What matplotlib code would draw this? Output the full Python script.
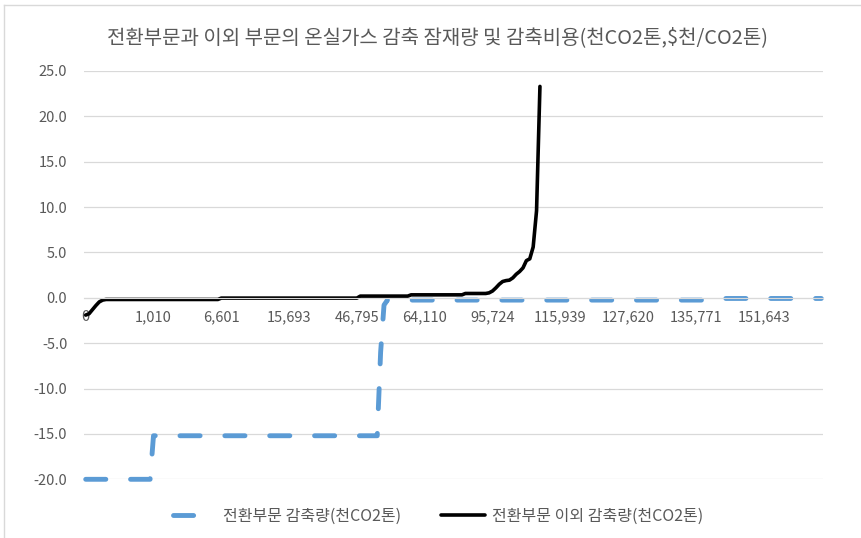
import numpy as np
import matplotlib.pyplot as plt
from matplotlib.ticker import FormatStrFormatter
from matplotlib.lines import Line2D

plt.rcParams['font.family'] = ['Noto Sans CJK KR', 'DejaVu Sans']
plt.rcParams['lines.scale_dashes'] = False

title = '전환부문과 이외 부문의 온실가스 감축 잠재량 및 감축비용(천CO2톤,\\$천/CO2톤)'
label_blue = '전환부문 감축량(천CO2톤)'
label_black = '전환부문 이외 감축량(천CO2톤)'

# category labels shown every 20th category
xlabels = ['0', '1,010', '6,601', '15,693', '46,795', '64,110',
           '95,724', '115,939', '127,620', '135,771', '151,643']

# values (runs of flat values written as repeats)
blue = ([-20.0] * 20 + [-15.2] * 67 + [-6.0, -0.8]
        + [-0.25] * 99 + [-0.07] * 30)
black = ([-1.9, -1.75, -1.3, -0.85, -0.45, -0.25]
         + [-0.18] * 34 + [-0.03] * 41 + [0.19] * 15 + [0.33] * 16 + [0.48] * 7
         + [0.55, 0.75, 1.1, 1.5, 1.8, 1.9, 1.95, 2.2, 2.6, 2.9, 3.3, 4.1, 4.3, 5.6, 9.6, 23.3]
         + [np.nan] * 83)

x = np.arange(len(blue))

fig = plt.figure(figsize=(8.61, 5.38), dpi=100)
ax = fig.add_axes([84/861, 1-479.3/538, (823-84)/861, (479.3-71)/538])

ax.plot(x, blue, color='#5B9BD5', lw=3.5, dashes=(14.5, 17.8),
        dash_capstyle='round', clip_on=False, label=label_blue)
ax.plot(x, black, color='black', lw=2.6, solid_capstyle='round',
        solid_joinstyle='round', clip_on=False, label=label_black)

ax.set_xlim(-0.5, len(x)-0.5)
ax.set_ylim(-20, 25)
ax.set_yticks(np.arange(-20, 26, 5))
ax.yaxis.set_major_formatter(FormatStrFormatter('%.1f'))
ax.grid(axis='y', color='#D9D9D9', lw=0.9)
ax.set_axisbelow(True)
for s in ['top', 'right', 'left']:
    ax.spines[s].set_visible(False)
ax.spines['bottom'].set_position(('data', 0))
ax.spines['bottom'].set_color('#D9D9D9')
ax.set_xticks(range(0, 201, 20), xlabels)
ax.tick_params(length=0, colors='#595959', labelsize=10.5)
ax.tick_params(axis='y', pad=12)
ax.tick_params(axis='x', pad=9)

fig.text(437/861, 1-38/538, title, ha='center', va='center', fontsize=14.4, color='#595959')

fig.legend(loc='center', bbox_to_anchor=(438/861, 1-516/538), ncol=2, frameon=False,
           fontsize=11.5, handlelength=2.7, handletextpad=0.45, columnspacing=2.5,
           labelcolor='#595959')

# chart area border (left and top edges visible)
fig.add_artist(Line2D([4/861, 4/861], [0, 1-5/538], transform=fig.transFigure, color='#D9D9D9', lw=1))
fig.add_artist(Line2D([4/861, 1], [1-5/538, 1-5/538], transform=fig.transFigure, color='#D9D9D9', lw=1))

fig.savefig('out.png', dpi=100)
